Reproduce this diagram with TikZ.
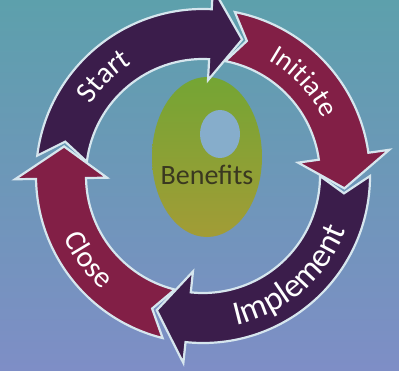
\documentclass[tikz,border=0pt]{standalone}
\usepackage{fontspec}
\setmainfont{Carlito}
\usetikzlibrary{shapes.geometric,decorations.text}
\definecolor{bgtop}{HTML}{5DA0AC}
\definecolor{bgbot}{HTML}{7E8EC6}
\definecolor{cycplum}{HTML}{3B1D4B}
\definecolor{cyccrimson}{HTML}{821F46}
\definecolor{cycedge}{HTML}{D6E6EE}
\definecolor{hubtop}{HTML}{74A534}
\definecolor{hubbot}{HTML}{A29C36}
\definecolor{hubhole}{HTML}{86ADCB}
\definecolor{hubtext}{HTML}{3A3820}

\begin{document}
\begin{tikzpicture}[x=1pt, y=1pt,
  cyclearrow/.style={draw=cycedge, line width=2.2pt, line join=miter},
  arclabel/.style={decorate, decoration={text along path, text align=center, text color=white, text={#1}}}]

  % ---- Background ----
  \shade[top color=bgtop, bottom color=bgbot] (0,0) rectangle (399,370);
  \useasboundingbox (0,0) rectangle (399,370);

  % ---- Centre: Benefits ----
  \node[ellipse, minimum width=110, minimum height=160, inner sep=0pt,
        top color=hubtop, bottom color=hubbot] (hub) at (207,213) {};
  \fill[hubhole] (220,236) ellipse[x radius=20, y radius=24];
  \node[text=hubtext, font=\fontsize{28}{34}\selectfont] (benefits) at (207,195) {Benefits};

  \begin{scope}[shift={(203,194)}]
    % ---- Start (top left) ----
    \fill[cycplum, cyclearrow] (166:142) -- (173:167) arc[start angle=173, end angle=87, radius=167]
      -- (87:188) -- (74:142) -- (87:96) -- (87:117) arc[start angle=87, end angle=173, radius=117] -- cycle;
    % ---- Initiate (top right) ----
    \fill[cyccrimson, cyclearrow] (72:142) -- (79:167) arc[start angle=79, end angle=8, radius=167]
      -- (8:188) -- (-5:142) -- (8:96) -- (8:117) arc[start angle=8, end angle=79, radius=117] -- cycle;
    % ---- Implement (bottom right) ----
    \fill[cycplum, cyclearrow] (-7:142) -- (0:167) arc[start angle=0, end angle=-96, radius=167]
      -- (-96:188) -- (-109:142) -- (-96:96) -- (-96:117) arc[start angle=-96, end angle=0, radius=117] -- cycle;
    % ---- Close (bottom left) ----
    \fill[cyccrimson, cyclearrow] (249:142) -- (256:167) arc[start angle=256, end angle=181, radius=167]
      -- (181:188) -- (168:142) -- (181:96) -- (181:117) arc[start angle=181, end angle=256, radius=117] -- cycle;

    % ---- Labels along the ring ----
    \path[arclabel={|\fontsize{30}{36}\selectfont|Start}] (165:133) arc[start angle=165, end angle=105, radius=133];
    \path[arclabel={|\fontsize{28}{34}\selectfont|Initiate}] (73:133) arc[start angle=73, end angle=13, radius=133];
    \path[arclabel={|\fontsize{34}{40}\selectfont|Implement}] (-89:153) arc[start angle=-89, end angle=-9, radius=153];
    \path[arclabel={|\fontsize{30}{36}\selectfont|Close}] (186:152) arc[start angle=186, end angle=246, radius=152];
  \end{scope}

\end{tikzpicture}
\end{document}
